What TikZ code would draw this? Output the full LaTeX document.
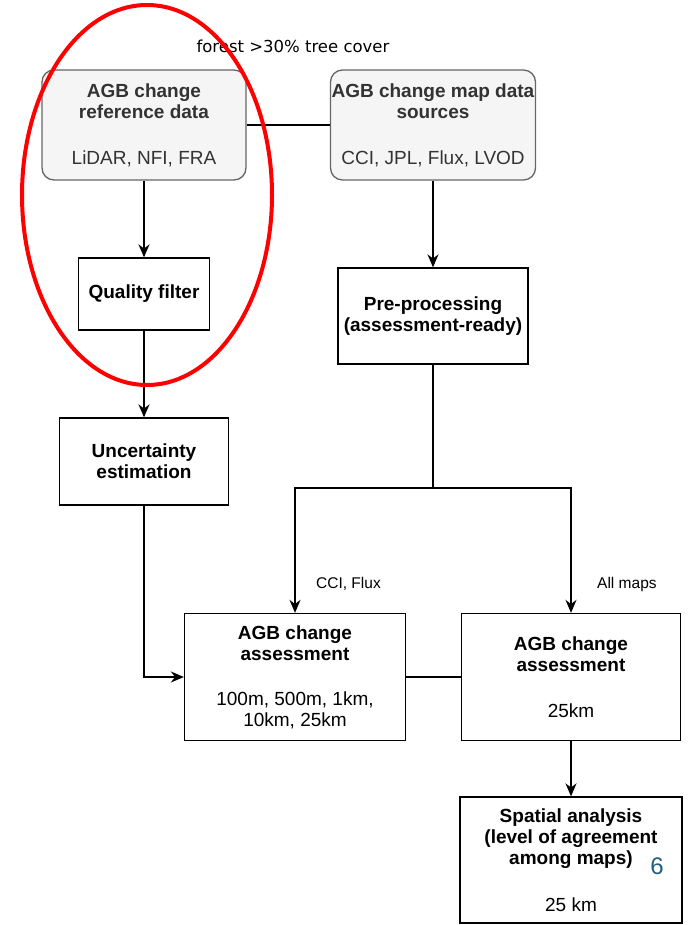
\documentclass[tikz,border=0pt]{standalone}
\usepackage{fontspec}
\setmainfont{Liberation Sans}
\newfontfamily\labelfont{DejaVu Sans}
\usetikzlibrary{arrows.meta}
\definecolor{boxgray}{HTML}{F5F5F5}
\definecolor{edgegray}{HTML}{666666}
\definecolor{textgray}{HTML}{333333}
\definecolor{slideteal}{HTML}{1F5F7F}
\begin{document}
\begin{tikzpicture}[x=1pt, y=-1pt,
    srcbox/.style={draw=edgegray, fill=boxgray, text=textgray, rounded corners=12pt,
      line width=1.3pt, align=center, inner sep=0pt, font=\fontsize{19}{21}\selectfont},
    stepbox/.style={draw, line width=1.3pt, align=center, inner sep=0pt,
      font=\fontsize{19}{21}\selectfont},
    arr/.style={-{Stealth[length=13pt, width=11pt]}, line width=1.8pt},
    con/.style={line width=1.8pt},
    lbl/.style={font=\fontsize{15.5}{17}\selectfont, inner sep=0pt}]
  \useasboundingbox (0,0) rectangle (690,925);

  % data sources
  \node[srcbox, minimum width=204pt, minimum height=110pt] (ref) at (144,125)
    {\textbf{AGB change}\\\textbf{reference data}\\[25pt]LiDAR, NFI, FRA};
  \node[srcbox, minimum width=205pt, minimum height=110pt] (maps) at (433,125)
    {\textbf{AGB change map data}\\\textbf{sources}\\[25pt]CCI, JPL, Flux, LVOD};
  \node[font=\labelfont\fontsize{16.5}{18}\selectfont] (forest) at (293,46) {forest >30\% tree cover};

  % processing steps
  \node[stepbox, minimum width=131pt, minimum height=72pt] (filter) at (144,294)
    {\textbf{Quality filter}};
  \node[stepbox, minimum width=169pt, minimum height=87pt] (uncert) at (144,461.5)
    {\textbf{Uncertainty}\\\textbf{estimation}};
  \node[stepbox, minimum width=190pt, minimum height=96pt] (prep) at (433,316)
    {\textbf{Pre-processing}\\\textbf{(assessment-ready)}};

  % assessments
  \node[stepbox, minimum width=221pt, minimum height=127pt] (assessA) at (295,677)
    {\textbf{AGB change}\\\textbf{assessment}\\[24pt]100m, 500m, 1km,\\10km, 25km};
  \node[stepbox, minimum width=219pt, minimum height=127pt] (assessB) at (571,677)
    {\textbf{AGB change}\\\textbf{assessment}\\[25pt]25km};
  \node[stepbox, minimum width=222pt, minimum height=126pt] (spatial) at (571,860)
    {\textbf{Spatial analysis}\\\textbf{(level of agreement}\\\textbf{among maps)}\\[26pt]25 km};
  \node[text=slideteal, font=\fontsize{24}{26}\selectfont] (slide) at (657,866) {6};

  % connectors
  \draw[con] (ref.east) -- (maps.west);
  \draw[arr] (ref.south) -- (filter.north);
  \draw[arr] (filter.south) -- (uncert.north);
  \draw[arr] (maps.south) -- (prep.north);
  \coordinate (split) at (433,488);
  \draw[con] (prep.south) -- (split);
  \draw[arr] (split) -| (assessA.north);
  \draw[arr] (split) -| (assessB.north);
  \node[lbl, anchor=west] (ccilbl) at (316,584) {CCI, Flux};
  \node[lbl, anchor=west] (alllbl) at (597,584) {All maps};
  \draw[arr] (uncert.south) |- (assessA.west);
  \draw[con] (assessA.east) -- (assessB.west);
  \draw[arr] (assessB.south) -- (spatial.north);

  % highlight
  \draw[red, line width=4pt] (147,195) ellipse [x radius=125, y radius=190];
\end{tikzpicture}
\end{document}
